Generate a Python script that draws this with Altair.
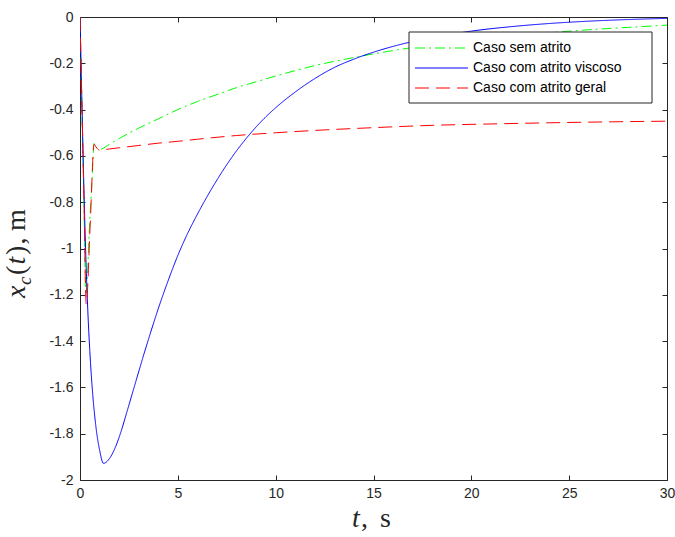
import altair as alt
import pandas as pd

# ---------------- data ----------------
series_names = ["Caso sem atrito", "Caso com atrito viscoso", "Caso com atrito geral"]

t_sem = [0, 0.1, 0.2, 0.3, 0.5, 0.62, 0.72, 0.85, 1.0, 1.5, 2, 3, 4, 5, 6, 7, 8, 9, 10,
         12, 14, 16, 18, 20, 22, 24, 26, 28, 30]
x_sem = [0, -0.4, -0.8, -1.2, -0.88, -0.7, -0.545, -0.565, -0.572, -0.55, -0.525, -0.48,
         -0.44, -0.40, -0.365, -0.335, -0.305, -0.28, -0.255, -0.21, -0.175, -0.145,
         -0.12, -0.10, -0.083, -0.068, -0.055, -0.045, -0.035]

t_vis = [0, 0.1, 0.2, 0.3, 0.4, 0.5, 0.65, 0.8, 1.0, 1.2, 1.5, 1.8, 2.1, 2.4, 2.8, 3.2,
         3.6, 4.0, 4.5, 5.0, 5.5, 6.0, 6.5, 7.0, 7.5, 8.0, 8.5, 9.0, 9.5, 10, 11, 12, 13,
         14, 15, 16, 17, 18, 19, 20, 22, 24, 26, 28, 30]
x_vis = [0, -0.38, -0.74, -1.04, -1.27, -1.44, -1.63, -1.76, -1.87, -1.928, -1.908,
         -1.86, -1.79, -1.705, -1.59, -1.475, -1.365, -1.26, -1.14, -1.03, -0.935,
         -0.852, -0.775, -0.704, -0.638, -0.578, -0.524, -0.475, -0.431, -0.392, -0.324,
         -0.266, -0.218, -0.182, -0.152, -0.127, -0.106, -0.089, -0.074, -0.061, -0.042,
         -0.028, -0.018, -0.011, -0.006]

t_ger = [0, 0.1, 0.2, 0.32, 0.52, 0.72, 0.85, 1.0, 1.5, 2, 3, 4, 5, 6, 8, 10, 12, 15, 18,
         21, 24, 27, 30]
x_ger = [0, -0.39, -0.78, -1.24, -0.9, -0.55, -0.565, -0.575, -0.57, -0.565, -0.555,
         -0.545, -0.537, -0.528, -0.512, -0.5, -0.49, -0.478, -0.468, -0.462, -0.457,
         -0.453, -0.45]

x_ticks = [0, 5, 10, 15, 20, 25, 30]
y_ticks = [round(-0.2 * i, 1) for i in range(11)]

# ---------------- styles ----------------
colors = ["#00ff00", "#0000ff", "#ff0000"]
dashes = [[10, 4, 2, 4], [1, 0], [14, 7]]
W, H = 587, 463
AX = "#262626"

df = pd.concat([
    pd.DataFrame({"t": t_sem, "x": x_sem, "serie": series_names[0], "k": 0}),
    pd.DataFrame({"t": t_vis, "x": x_vis, "serie": series_names[1], "k": 1}),
    pd.DataFrame({"t": t_ger, "x": x_ger, "serie": series_names[2], "k": 2}),
])

xscale = alt.Scale(domain=[0, 30], nice=False, zero=False)
yscale = alt.Scale(domain=[-2, 0], nice=False, zero=False)

lbl = dict(labelFont="Liberation Sans", labelFontSize=14, labelColor=AX,
           labelFlush=False, labelOverlap=False, grid=False, title=None)

lines = alt.Chart(df).mark_line(strokeWidth=1, interpolate="monotone", clip=True).encode(
    x=alt.X("t:Q", scale=xscale,
            axis=alt.Axis(values=x_ticks, ticks=False, domain=False, labelPadding=6, **lbl)),
    y=alt.Y("x:Q", scale=yscale,
            axis=alt.Axis(values=y_ticks, ticks=False, domain=False, labelPadding=7,
                          labelExpr="datum.value == 0 ? '0' : '-' + format(abs(datum.value), '~g')",
                          **lbl)),
    color=alt.Color("serie:N", scale=alt.Scale(domain=series_names, range=colors), legend=None),
    strokeDash=alt.StrokeDash("serie:N", scale=alt.Scale(domain=series_names, range=dashes), legend=None),
    order=alt.Order("k:Q"),
)

tickax = dict(labels=False, domain=False, ticks=True, tickSize=5, tickColor=AX,
              tickWidth=1, grid=False, title=None)

ticks_a = alt.Chart(df).mark_point(opacity=0).encode(
    x=alt.X("t:Q", scale=xscale, axis=alt.Axis(orient="top", offset=-H, values=x_ticks, **tickax)),
    y=alt.Y("x:Q", scale=yscale, axis=alt.Axis(orient="right", offset=-W, values=y_ticks, **tickax)),
)
ticks_b = alt.Chart(df).mark_point(opacity=0).encode(
    x=alt.X("t:Q", scale=xscale, axis=alt.Axis(orient="bottom", offset=-H, values=x_ticks, **tickax)),
    y=alt.Y("x:Q", scale=yscale, axis=alt.Axis(orient="left", offset=-W, values=y_ticks, **tickax)),
)

one = alt.Data(values=[{}])


def txt(s, x, y, size=28, italic=False, angle=0, font="Liberation Serif", color=AX,
        baseline="alphabetic"):
    kw = dict(text=s, font=font, fontSize=size, align="left", baseline=baseline, color=color)
    if italic:
        kw["fontStyle"] = "italic"
    if angle:
        kw["angle"] = angle
    return alt.Chart(one).mark_text(**kw).encode(x=alt.value(x), y=alt.value(y))


# axis titles (pieces so that italics / subscript can be shown)
ox, oy = 80, 17
yb = 25  # baseline x of the rotated y title (image coords)
titles = [
    txt("t", 352 - ox, 527 - oy, italic=True),
    txt(",", 361 - ox, 527 - oy),
    txt("s", 380 - ox, 527 - oy),
    txt("x", yb - ox, 298 - oy, italic=True, angle=270),
    txt("c", yb + 6 - ox, 285 - oy, size=19, italic=True, angle=270),
    txt("(", yb - ox, 275 - oy, angle=270),
    txt("t", yb - ox, 264.5 - oy, italic=True, angle=270),
    txt(")", yb - ox, 255 - oy, angle=270),
    txt(",", yb - ox, 244.5 - oy, angle=270),
    txt("m", yb - ox, 231 - oy, angle=270),
]

# legend
box = alt.Chart(one).mark_rect(fill="white", stroke=AX, strokeWidth=1).encode(
    x=alt.value(409 - ox), x2=alt.value(652 - ox), y=alt.value(32 - oy), y2=alt.value(103 - oy))
leg = [box]
rows_y = [48, 68, 88]
for i in range(3):
    leg.append(alt.Chart(one).mark_rule(color=colors[i], strokeWidth=1.2, strokeDash=dashes[i]).encode(
        x=alt.value(415 - ox), x2=alt.value(468 - ox), y=alt.value(rows_y[i] - oy)))
    leg.append(txt(series_names[i], 473 - ox, rows_y[i] - oy, size=14, font="Liberation Sans",
                   color="#000000", baseline="middle"))

chart = alt.layer(lines, ticks_a, ticks_b, *leg, *titles).resolve_axis(
    x="independent", y="independent"
).properties(
    width=W, height=H,
    autosize=alt.AutoSizeParams(type="none"),
    padding={"left": ox, "top": oy, "right": 675 - ox - W, "bottom": 537 - oy - H},
    background="white",
).configure_view(stroke=AX, strokeWidth=1)

chart.save("out.html", embed_options={"renderer": "svg", "actions": False})
